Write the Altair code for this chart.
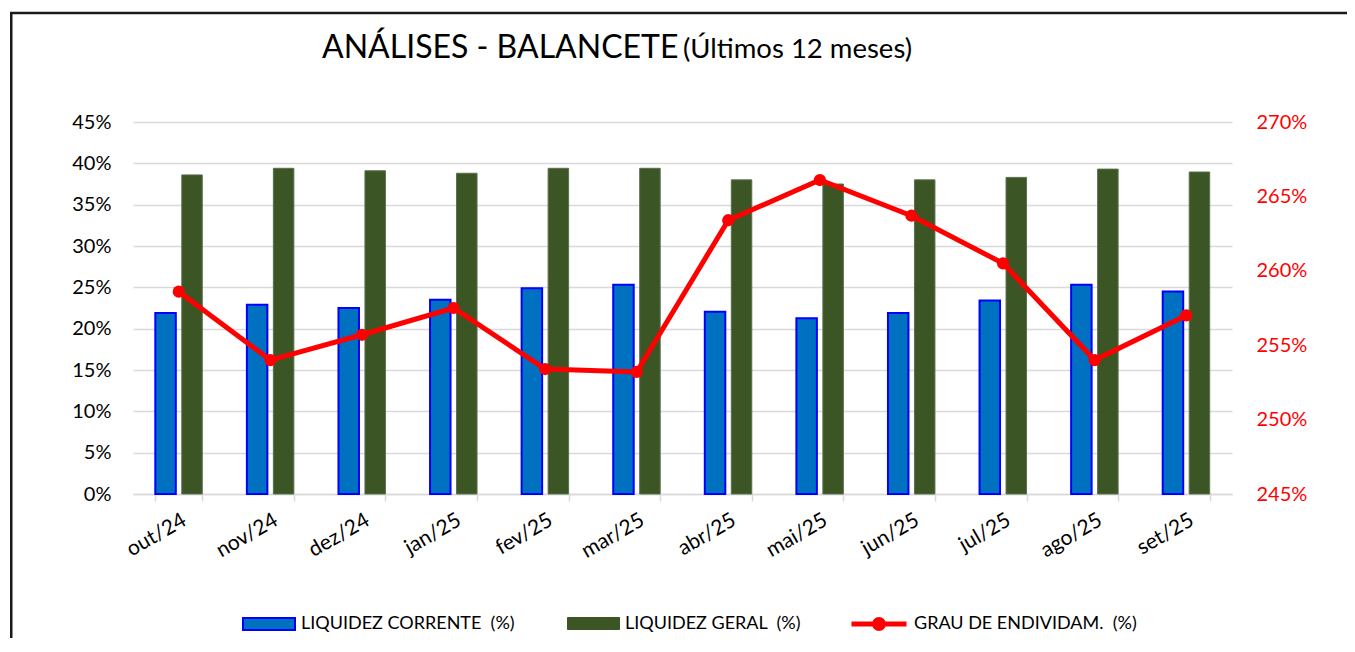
import altair as alt
import pandas as pd

months = ["out/24", "nov/24", "dez/24", "jan/25", "fev/25", "mar/25",
          "abr/25", "mai/25", "jun/25", "jul/25", "ago/25", "set/25"]
liq_corrente = [21.9, 22.9, 22.5, 23.5, 24.9, 25.3, 22.05, 21.25, 21.9, 23.4, 25.3, 24.5]
liq_geral = [38.6, 39.4, 39.1, 38.8, 39.4, 39.4, 38.0, 37.5, 38.0, 38.3, 39.3, 38.95]
grau_endiv = [258.6, 254.0, 255.7, 257.5, 253.4, 253.2, 263.4, 266.1, 263.7, 260.5, 254.0, 257.0]

S1 = "LIQUIDEZ CORRENTE\u00a0 (%)"
S2 = "LIQUIDEZ GERAL\u00a0 (%)"
S3 = "GRAU DE ENDIVIDAM.\u00a0 (%)"
left_ticks = [round(i * 0.05, 2) for i in range(10)]
right_ticks = [round(2.45 + i * 0.05, 2) for i in range(6)]

FONT = "Lato"

bars_df = pd.DataFrame({
    "mes": months * 2,
    "serie": [S1] * len(months) + [S2] * len(months),
    "valor": [v / 100 for v in liq_corrente] + [v / 100 for v in liq_geral],
})
line_df = pd.DataFrame({"mes": months, "ge": [v / 100 for v in grau_endiv], "serie": [S3] * len(months)})
one = pd.DataFrame({"a": [0]})

x_enc = alt.X("mes:N", sort=months,
              scale=alt.Scale(paddingInner=0.487, paddingOuter=0.2435),
              axis=alt.Axis(title=None, labelAngle=330, labelAlign="right", labelBaseline="top",
                            labelFont=FONT, labelFontSize=21, labelColor="#000000", labelPadding=8,
                            domainColor="#D9D9D9", domainWidth=1.5, tickColor="#D9D9D9",
                            tickWidth=1.5, tickSize=7, tickBand="extent", grid=False))
xoff = alt.XOffset("serie:N", sort=[S1, S2],
                   scale=alt.Scale(domain=[S1, S2], paddingInner=0.226, paddingOuter=0))
y_left = alt.Y("valor:Q", scale=alt.Scale(domain=[0, 0.45], nice=False),
               axis=alt.Axis(title=None, values=left_ticks, format=".0%", grid=True,
                             gridColor="#D9D9D9", gridWidth=1.5, domain=False, ticks=False,
                             labelFont=FONT, labelFontSize=20, labelColor="#000000",
                             labelPadding=22))

def leg(x, y, size, path, fillc, strokec, strokew):
    return alt.Legend(title=None, orient="none", legendX=x, legendY=y, padding=0,
                      symbolType=path, symbolSize=size, symbolFillColor=fillc,
                      symbolStrokeColor=strokec, symbolStrokeWidth=strokew, labelLimit=0,
                      labelFont=FONT, labelFontSize=18, labelColor="#000000", labelOffset=5)

rect_path = "M-1,-0.23L1,-0.23L1,0.23L-1,0.23Z"
line_path = "M-1,0L1,0M-0.16,0A0.16,0.16,0,1,1,0.16,0A0.16,0.16,0,1,1,-0.16,0Z"

blue = alt.Chart(bars_df).transform_filter(alt.datum.serie == S1).mark_bar(
    stroke="#0000FF", strokeWidth=2).encode(
    x=x_enc, xOffset=xoff, y=y_left,
    fill=alt.Fill("serie:N", scale=alt.Scale(domain=[S1], range=["#0070C0"]),
                  legend=leg(109, 475, 2704, rect_path, "#0070C0", "#0000FF", 2)))
green = alt.Chart(bars_df).transform_filter(alt.datum.serie == S2).mark_bar(
    stroke="#5A7050", strokeWidth=1).encode(
    x=x_enc, xOffset=xoff, y=y_left,
    fill=alt.Fill("serie:N", scale=alt.Scale(domain=[S2], range=["#3B5525"]),
                  legend=leg(434, 475, 2704, rect_path, "#3B5525", "#3B5525", 1)))
bars = alt.layer(blue, green).resolve_scale(fill="independent")

y_right = alt.Y("ge:Q", scale=alt.Scale(domain=[2.45, 2.70], nice=False),
                axis=alt.Axis(title=None, orient="right", values=right_ticks, format=".0%",
                              grid=False, domain=False, ticks=False, labelFont=FONT,
                              labelFontSize=20, labelColor="#FF0000", labelPadding=24))
line = alt.Chart(line_df).mark_line(color="#FF0000", strokeWidth=5).encode(
    x=alt.X("mes:N", sort=months), y=y_right)
points = alt.Chart(line_df).mark_point(filled=True, size=150, opacity=1).encode(
    x=alt.X("mes:N", sort=months), y=y_right,
    color=alt.Color("serie:N", scale=alt.Scale(domain=[S3], range=["#FF0000"]),
                    legend=leg(716, 472, 3025, line_path, "#FF0000", "#FF0000", 5)))
lines = alt.layer(line, points)

frame_top = alt.Chart(one).mark_rule(stroke="#1A1A1A", strokeWidth=2.5).encode(
    x=alt.value(-123), x2=alt.value(1220), y=alt.value(-109))
frame_left = alt.Chart(one).mark_rect(fill="#1A1A1A", strokeWidth=0).encode(
    x=alt.value(-123), x2=alt.value(-120.5), y=alt.value(-110), y2=alt.value(516))
title1 = alt.Chart(one).mark_text(align="left", baseline="alphabetic", font=FONT,
                                  fontSize=32, color="#000000").encode(
    x=alt.value(189), y=alt.value(-64), text=alt.value("ANÁLISES - BALANCETE"))
title2 = alt.Chart(one).mark_text(align="left", baseline="alphabetic", font=FONT,
                                  fontSize=27.5, color="#000000").encode(
    x=alt.value(550), y=alt.value(-64), text=alt.value("(Últimos 12 meses)"))

chart = alt.layer(frame_top, frame_left, bars, lines, title1, title2).resolve_scale(
    y="independent").properties(
    width=1099, height=372,
    autosize=alt.AutoSizeParams(type="none"),
    padding={"left": 125, "top": 114, "right": 115, "bottom": 144},
    background="#FFFFFF",
).configure_view(stroke=None)

chart.save("out.html", embed_options={"renderer": "svg", "actions": False})
